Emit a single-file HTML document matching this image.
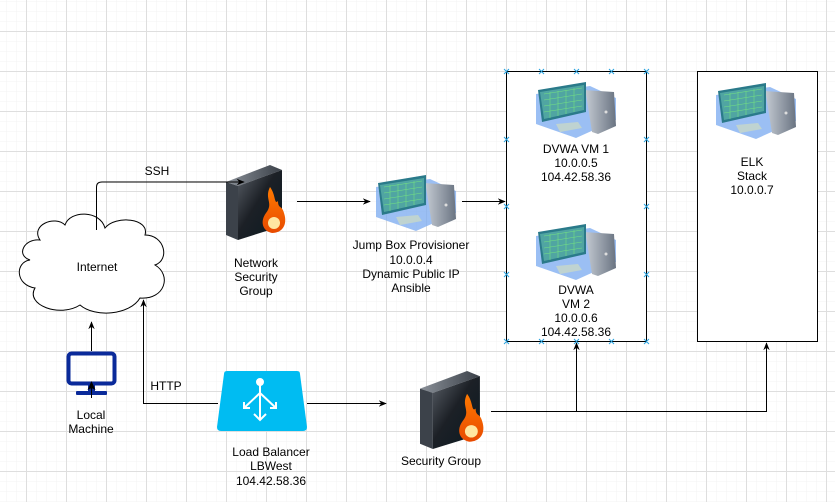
<!DOCTYPE html>
<html><head><meta charset="utf-8"><style>
html,body{margin:0;padding:0;background:#fff}
svg{display:block}
text{font-family:"Liberation Sans",Arial,sans-serif;font-size:12px;fill:#000}
</style></head><body>
<svg width="835" height="502" viewBox="0 0 835 502" xmlns="http://www.w3.org/2000/svg">
<defs>
<pattern id="minor" x="6" y="1" width="10" height="10" patternUnits="userSpaceOnUse">
<path d="M0 0H10M0 0V10" stroke="#f3f3f3" stroke-width="1" fill="none"/>
</pattern>
<pattern id="major" x="26" y="31" width="40" height="40" patternUnits="userSpaceOnUse">
<path d="M0 0.5H40M0.5 0V40" stroke="#dedede" stroke-width="1" fill="none"/>
</pattern>
<linearGradient id="fwf" x1="0" y1="0" x2="1" y2="1">
<stop offset="0" stop-color="#5a6068"/><stop offset="0.45" stop-color="#1c2026"/><stop offset="1" stop-color="#0a1a22"/>
</linearGradient>
<linearGradient id="fwt" x1="0" y1="0" x2="1" y2="0">
<stop offset="0" stop-color="#8a9098"/><stop offset="1" stop-color="#3a4048"/>
</linearGradient>
<linearGradient id="flame" x1="0" y1="0" x2="0" y2="1">
<stop offset="0" stop-color="#ff7a00"/><stop offset="1" stop-color="#e84a00"/>
</linearGradient>
<linearGradient id="tower" x1="0" y1="0" x2="1" y2="0">
<stop offset="0" stop-color="#c8ced6"/><stop offset="1" stop-color="#6a7482"/>
</linearGradient>
<g id="pc">
<polygon points="0,12 54,4 80,16 80,38 40,56 0,42" fill="#7aaaf0" opacity="0.75"/>
<polygon points="48,8 78,10 80,44 62,52 56,50 50,12" fill="url(#tower)"/>
<polygon points="2,8 50,0 50,30 6,40" fill="#2a7a8a"/>
<polygon points="4,10 48,3 48,28 8,37" fill="#5ab0a8" opacity="0.8"/>
<path d="M8,12 L46,6 M8,18 L46,12 M8,24 L46,18 M8,30 L46,24 M14,10 V36 M22,9 V34 M30,8 V32 M38,6 V30" stroke="#7cf07a" stroke-width="0.6" opacity="0.8"/>
<polygon points="20,42 42,40 46,46 24,50" fill="#c8d8c8" opacity="0.8"/>
<circle cx="70" cy="30" r="1.5" fill="#ddd"/>
</g>
<g id="fw">
<polygon points="0,17 44,0 56,5 12,21" fill="url(#fwt)"/>
<polygon points="0,17 12,21 12,75 0,70" fill="#3c424a"/>
<polygon points="12,21 56,5 56,61 12,75" fill="url(#fwf)"/>
<path d="M44,22 C38,34 48,38 40,48 C34,56 36,66 46,68 C56,68 62,60 58,48 C56,40 52,44 52,36 C48,40 50,30 44,22Z" fill="url(#flame)"/>
<ellipse cx="48" cy="58" rx="6" ry="6" fill="#ffe6a0"/>
</g>
<marker id="ar" viewBox="0 0 10 10" refX="9" refY="5" markerWidth="8" markerHeight="8" orient="auto" markerUnits="userSpaceOnUse">
<path d="M0,1 L10,5 L0,9 L3,5Z" fill="#000"/>
</marker>
</defs>
<rect width="835" height="502" fill="#fff"/>
<rect width="835" height="502" fill="url(#minor)"/>
<rect width="835" height="502" fill="url(#major)"/>

<!-- boxes -->
<rect x="506.5" y="71.5" width="140" height="270" fill="#fff" stroke="#000"/>
<rect x="697.5" y="71.5" width="120" height="270" fill="#fff" stroke="#000"/>
<g stroke="#29a3e0" stroke-width="1">
<path d="M504,69l5,5m0,-5l-5,5M539,69l5,5m0,-5l-5,5M574,69l5,5m0,-5l-5,5M609,69l5,5m0,-5l-5,5M644,69l5,5m0,-5l-5,5"/>
<path d="M504,339l5,5m0,-5l-5,5M539,339l5,5m0,-5l-5,5M574,339l5,5m0,-5l-5,5M609,339l5,5m0,-5l-5,5M644,339l5,5m0,-5l-5,5"/>
<path d="M504,137l5,5m0,-5l-5,5M504,204l5,5m0,-5l-5,5M504,272l5,5m0,-5l-5,5M644,137l5,5m0,-5l-5,5M644,204l5,5m0,-5l-5,5M644,272l5,5m0,-5l-5,5"/>
</g>

<!-- cloud -->
<path d="M40,240 C30,225 55,215 65,225 C70,210 100,210 105,228 C115,215 150,218 145,235 C165,235 170,260 155,265 C172,275 165,300 140,298 C130,315 95,318 80,305 C60,318 25,305 35,288 C15,285 15,262 30,260 C15,255 25,238 40,240Z" fill="#fff" stroke="#000" stroke-width="1"/>
<text x="97" y="271" text-anchor="middle">Internet</text>

<!-- NSG -->
<use href="#fw" x="226" y="165"/>
<text text-anchor="middle"><tspan x="256" y="267">Network</tspan><tspan x="256" y="281">Security</tspan><tspan x="256" y="295">Group</tspan></text>

<!-- connectors -->
<g fill="none" stroke="#000" stroke-width="1">
<path d="M96.5,230 V187 Q96.5,182 102,182 H244" marker-end="url(#ar)"/>
<path d="M297,201.5 H370" marker-end="url(#ar)"/>
<path d="M462,201.5 H505" marker-end="url(#ar)"/>
<path d="M91.5,398 V386"/>
<path d="M91.5,351 V322" marker-end="url(#ar)"/>
<path d="M218,403.5 H143.5 V300" marker-end="url(#ar)"/>
<path d="M307,403.5 H386" marker-end="url(#ar)"/>
<path d="M491,411.5 H766.5 V343" marker-end="url(#ar)"/>
<path d="M576.5,411.5 V343" marker-end="url(#ar)"/>
</g>
<text x="157" y="175" text-anchor="middle">SSH</text>
<text x="166" y="390" text-anchor="middle">HTTP</text>

<!-- Jump box -->
<use href="#pc" x="376" y="175"/>
<text text-anchor="middle"><tspan x="411" y="249">Jump Box Provisioner</tspan><tspan x="411" y="264">10.0.0.4</tspan><tspan x="411" y="278">Dynamic Public IP</tspan><tspan x="411" y="292">Ansible</tspan></text>

<!-- DVWA -->
<use href="#pc" x="536" y="82"/>
<text text-anchor="middle"><tspan x="576" y="153">DVWA VM 1</tspan><tspan x="576" y="167">10.0.0.5</tspan><tspan x="576" y="181">104.42.58.36</tspan></text>
<use href="#pc" x="536" y="224"/>
<text text-anchor="middle"><tspan x="576" y="294">DVWA</tspan><tspan x="576" y="308">VM 2</tspan><tspan x="576" y="322">10.0.0.6</tspan><tspan x="576" y="336">104.42.58.36</tspan></text>

<!-- ELK -->
<use href="#pc" x="716" y="83"/>
<text text-anchor="middle"><tspan x="752" y="166">ELK</tspan><tspan x="752" y="180">Stack</tspan><tspan x="752" y="194">10.0.0.7</tspan></text>

<!-- Local machine -->
<rect x="68.5" y="353.5" width="46" height="30" rx="3" fill="none" stroke="#0a2a9a" stroke-width="4"/>
<rect x="88" y="385" width="7" height="6" fill="#0a2a9a"/>
<rect x="76" y="391" width="31" height="4" rx="1" fill="#0a2a9a"/>
<path d="M91.5,398 V387" stroke="#000"/>
<path d="M91.5,381 l-4,9 l4,-2 l4,2z" fill="#000"/>
<text text-anchor="middle"><tspan x="91" y="419">Local</tspan><tspan x="91" y="433">Machine</tspan></text>

<!-- LB -->
<path d="M227,371 H297 Q300,371 300,374 L307,427 Q307,431 303,431 H221 Q217,431 217,427 L224,374 Q224,371 227,371Z" fill="#00bcf2"/>
<g stroke="#fff" stroke-width="2" fill="none">
<circle cx="260" cy="382" r="3" fill="#fff"/>
<path d="M260,385 V420 M254,414 L260,420 L266,414 M260,393 L244,408 M244,402 V408 H250 M260,393 L276,408 M276,402 V408 H270"/>
</g>
<text text-anchor="middle"><tspan x="271" y="456">Load Balancer</tspan><tspan x="271" y="470">LBWest</tspan><tspan x="271" y="485">104.42.58.36</tspan></text>

<!-- Security Group -->
<use href="#fw" x="420" y="371" transform="translate(420 371) scale(1.07 1.04) translate(-420 -371)"/>
<text x="441" y="465" text-anchor="middle">Security Group</text>
</svg>
</body></html>
